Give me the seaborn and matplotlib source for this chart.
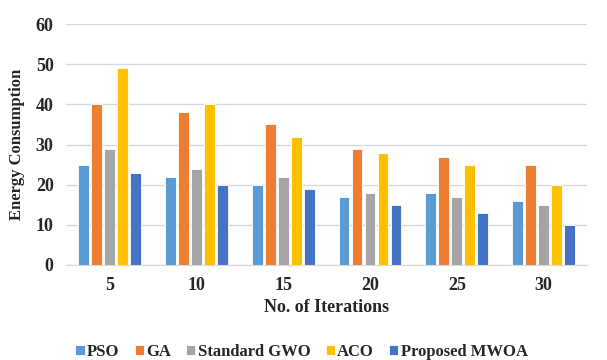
import pandas as pd
import matplotlib.pyplot as plt
import seaborn as sns

iterations = ['5', '10', '15', '20', '25', '30']
pso = [25, 22, 20, 17, 18, 16]
ga = [40, 38, 35, 29, 27, 25]
gwo = [29, 24, 22, 18, 17, 15]
aco = [49, 40, 32, 28, 25, 20]
mwoa = [23, 20, 19, 15, 13, 10]
methods = ['PSO', 'GA', 'Standard GWO', 'ACO', 'Proposed MWOA']
colors = ['#5B9BD5', '#ED7D31', '#A5A5A5', '#FFC000', '#4472C4']

rows = []
for name, vals in zip(methods, [pso, ga, gwo, aco, mwoa]):
    for it, v in zip(iterations, vals):
        rows.append({'Iterations': it, 'Method': name, 'Energy': v})
df = pd.DataFrame(rows)

sns.set_style('white')
plt.rcParams['font.family'] = ['Liberation Serif', 'DejaVu Serif']
plt.rcParams['font.weight'] = 'bold'

fig = plt.figure(figsize=(6.07, 3.6), dpi=100)
ax = fig.add_axes([0.109, 0.264, 0.858, 0.669])
sns.barplot(data=df, x='Iterations', y='Energy', hue='Method', palette=colors,
            saturation=1, width=0.75, gap=0.17, ax=ax,
            edgecolor='#ffffff', linewidth=0.6)

ax.set_ylim(0, 60)
ax.set_yticks(range(0, 61, 10))
ax.yaxis.grid(True, color='#d9d9d9', linewidth=1)
ax.set_axisbelow(True)
for s in ['top', 'right', 'left']:
    ax.spines[s].set_visible(False)
ax.spines['bottom'].set_color('#d9d9d9')
ax.tick_params(axis='both', length=0, labelsize=13, pad=9)
for lbl in ax.get_xticklabels() + ax.get_yticklabels():
    lbl.set_fontweight('bold')
ax.set_xlabel('No. of Iterations', fontsize=13, fontweight='bold', labelpad=3)
ax.set_ylabel('Energy Consumption', fontsize=12, fontweight='bold', labelpad=8)

ax.legend(loc='center', bbox_to_anchor=(0.452, -0.36), ncol=5, frameon=False,
          prop={'size': 12, 'weight': 'bold'}, handlelength=0.55, handleheight=0.55,
          handletextpad=0.15, columnspacing=0.9)

fig.savefig('out.png', dpi=100)
